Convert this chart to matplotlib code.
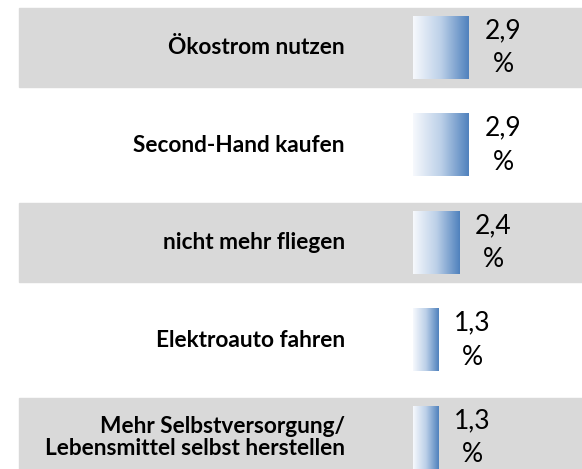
import numpy as np
import matplotlib.pyplot as plt
from matplotlib.colors import LinearSegmentedColormap

kategorien = ['Ökostrom nutzen', 'Second-Hand kaufen', 'nicht mehr fliegen',
              'Elektroauto fahren', 'Mehr Selbstversorgung/\nLebensmittel selbst herstellen']
werte = [2.9, 2.9, 2.4, 1.3, 1.3]
wert_labels = ['2,9\n%', '2,9\n%', '2,4\n%', '1,3\n%', '1,3\n%']

plt.rcParams['font.family'] = ['Lato', 'DejaVu Sans']

fig = plt.figure(figsize=(5.82, 4.69), dpi=100)
ax = fig.add_axes([0, 0, 1, 1])

px = 19.25  # pixel pro Prozentpunkt
ax.axis('off')

# graue Streifen hinter jeder zweiten Zeile
for i in range(len(kategorien)):
    if i % 2 == 0:
        ax.axhspan(i - 0.41, i + 0.41, xmin=19 / 582, xmax=1, color='#D9D9D9', zorder=0)

verlauf = LinearSegmentedColormap.from_list('verlauf', ['#F7F9FD', '#BCD0E8', '#4F81BD'])
grad = np.linspace(0, 1, 256).reshape(1, -1)
hoehe = 0.646

bars = ax.barh(range(len(werte)), werte, height=hoehe, color='none', zorder=2)
for b in bars:
    x0, y0 = b.get_x(), b.get_y()
    w, h = b.get_width(), b.get_height()
    ax.imshow(grad, cmap=verlauf, aspect='auto', extent=(x0, x0 + w, y0 + h, y0),
              zorder=2, interpolation='bicubic')

for i, (kat, v, lab) in enumerate(zip(kategorien, werte, wert_labels)):
    ax.text(-68 / px, i, kat, ha='right', va='center', fontsize=16.3,
            fontweight='bold', color='#000000', linespacing=1.1)
    ax.text(v + 16 / px, i, lab, ha='left', va='center', fontsize=19,
            multialignment='center', color='#000000', linespacing=1.45)

ax.set_xlim(-413 / px, (582 - 413) / px)
ax.set_ylim((469 - 47.5) / 97.5, -47.5 / 97.5)

fig.savefig('out.png', dpi=100)
